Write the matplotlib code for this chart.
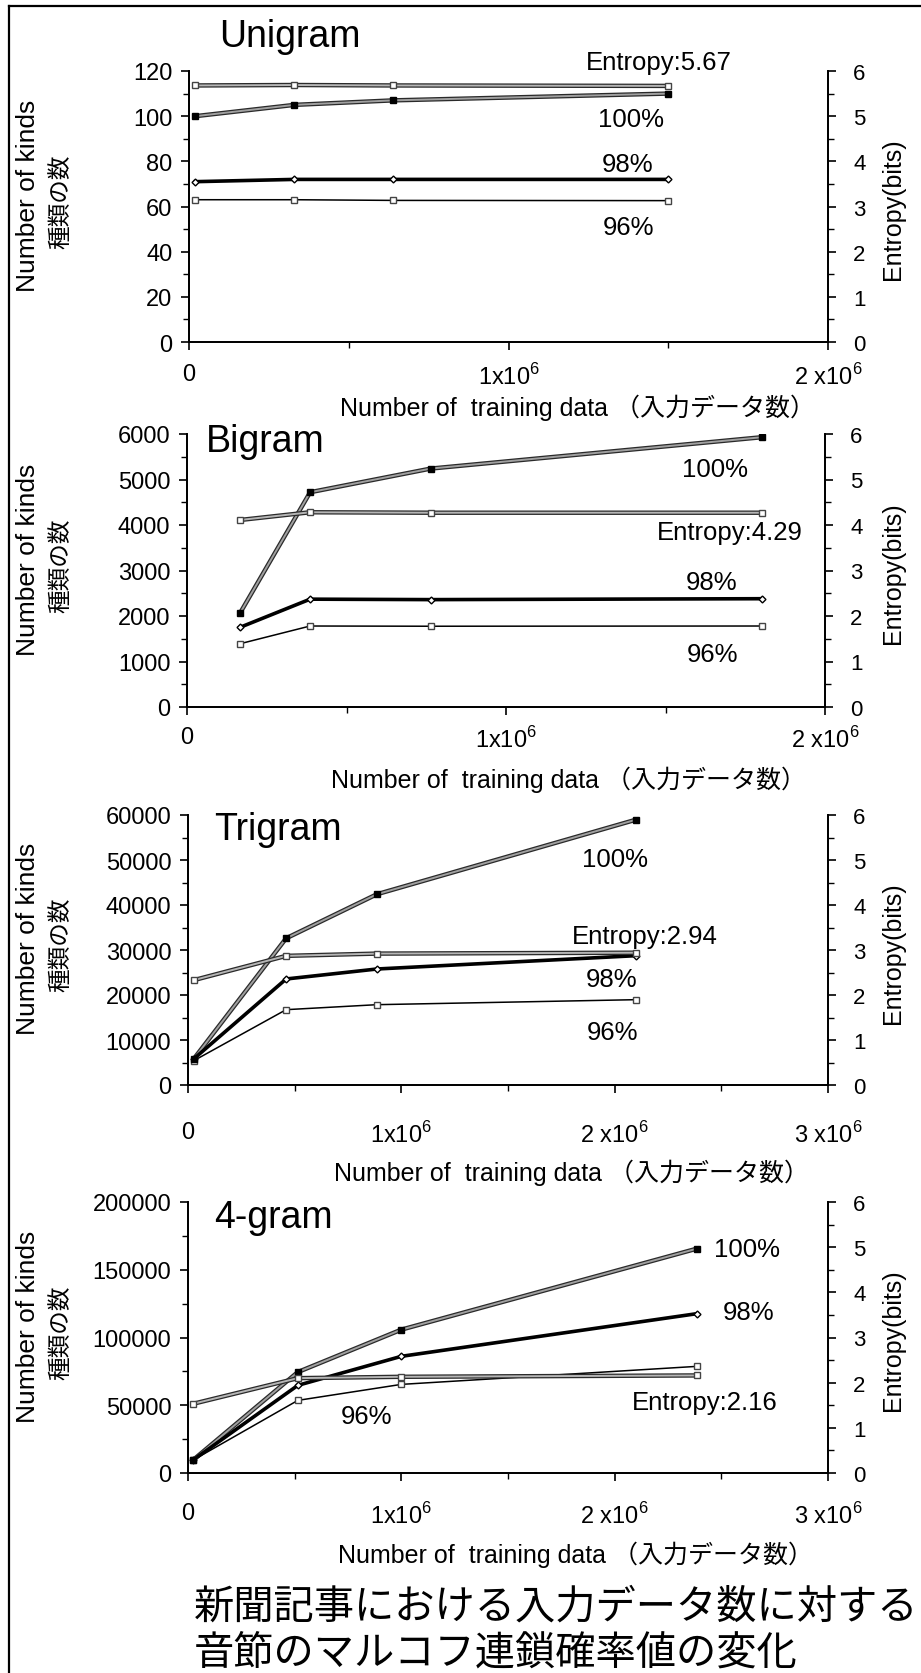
import matplotlib
matplotlib.use('Agg')
import matplotlib.pyplot as plt
import matplotlib.patheffects as pe
from matplotlib.ticker import MultipleLocator

# fonts: latin first, then japanese
plt.rcParams['font.family'] = ['Liberation Sans', 'Noto Sans CJK JP']
plt.rcParams['mathtext.fontset'] = 'custom'
plt.rcParams['mathtext.rm'] = 'Liberation Sans'

W, H = 921, 1674

# data
titles = ['Unigram', 'Bigram', 'Trigram', '4-gram']

xs_uni = [20000, 330000, 640000, 1500000]
uni_100 = [100, 105, 107, 110]
uni_98 = [71, 72, 72, 72]
uni_96 = [63, 63, 62.7, 62.6]
uni_ent = [5.68, 5.69, 5.68, 5.67]

xs_bi = [166000, 386000, 764000, 1803000]
bi_100 = [2060, 4720, 5240, 5930]
bi_98 = [1750, 2370, 2360, 2380]
bi_96 = [1390, 1780, 1775, 1780]
bi_ent = [4.11, 4.28, 4.27, 4.27]

xs_tri = [27000, 460000, 886000, 2100000]
tri_100 = [5800, 32600, 42400, 58960]
tri_98 = [5800, 23560, 25780, 28740]
tri_96 = [5400, 16740, 17850, 18960]
tri_ent = [2.33, 2.87, 2.92, 2.94]

xs_four = [22000, 515000, 1000000, 2386000]
four_100 = [9350, 74500, 105800, 165600]
four_98 = [9350, 64700, 86100, 117600]
four_96 = [9350, 53600, 65400, 78700]
four_ent = [1.53, 2.10, 2.13, 2.16]

ent_labels = ['Entropy:5.67', 'Entropy:4.29', 'Entropy:2.94', 'Entropy:2.16']

xlabel = 'Number of  training data （入力データ数）'
caption = ['新聞記事における入力データ数に対する', '音節のマルコフ連鎖確率値の変化']

# panel settings: pixel box (left, top, right, bottom), y range, ticks, x range
panels = [
    dict(box=(189, 72, 828, 343), ymax=120, ymaj=20, ymin=10, xmax=2e6,
         xs=xs_uni, s100=uni_100, s98=uni_98, s96=uni_96, ent=uni_ent, xpad=9),
    dict(box=(187, 435, 825, 708), ymax=6000, ymaj=1000, ymin=500, xmax=2e6,
         xs=xs_bi, s100=bi_100, s98=bi_98, s96=bi_96, ent=bi_ent, xpad=8),
    dict(box=(188, 816, 828, 1086), ymax=60000, ymaj=10000, ymin=5000, xmax=3e6,
         xs=xs_tri, s100=tri_100, s98=tri_98, s96=tri_96, ent=tri_ent, xpad=20),
    dict(box=(188, 1203, 828, 1474), ymax=200000, ymaj=50000, ymin=25000, xmax=3e6,
         xs=xs_four, s100=four_100, s98=four_98, s96=four_96, ent=four_ent, xpad=15),
]

# label positions in pixels
title_pos = [(219, 37), (206, 442), (214, 830), (214, 1218)]
xlabel_pos = [(577, 408), (568, 780), (571, 1173), (575, 1555)]
note_pos = [
    [(659, 63), (631, 120), (628, 165), (628, 228)],
    [(730, 533), (715, 470), (712, 583), (712, 655)],
    [(645, 937), (615, 860), (612, 980), (612, 1033)],
    [(705, 1403), (747, 1250), (749, 1313), (366, 1417)],
]
pct = ['100%', '98%', '96%']

# scanned grey lines: dark rim, lighter core
rim = [pe.Stroke(linewidth=3.2, foreground='#2a2a2a'), pe.Normal()]


def fx(x):
    return x / W


def fy(y):
    return 1 - y / H


fig = plt.figure(figsize=(W / 100, H / 100), dpi=100)

# scan frame: top and left edges
fig.add_artist(plt.Line2D([fx(9), 1], [fy(7), fy(7)], color='black', lw=1.6))
fig.add_artist(plt.Line2D([fx(9), fx(9)], [fy(7), 0], color='black', lw=1.6))

for i, p in enumerate(panels):
    l, t, r, b = p['box']
    ax = fig.add_axes([fx(l), fy(b), (r - l) / W, (b - t) / H])
    ax2 = ax.twinx()

    # grey textured lines, markers drawn on top separately
    ax.plot(p['xs'], p['s100'], color='#a0a0a0', lw=1.4, zorder=3,
            path_effects=rim)
    ax.plot(p['xs'], p['s100'], ls='none', marker='s', ms=5,
            mfc='black', mec='black', zorder=4)
    ax.plot(p['xs'], p['s98'], color='black', lw=2.6, marker='D', ms=3.5,
            mfc='white', mec='black', zorder=3)
    ax.plot(p['xs'], p['s96'], color='black', lw=1.1, marker='s', ms=5,
            mfc='white', mec='#444444', zorder=3)
    ax2.plot(p['xs'], p['ent'], color='#b5b5b5', lw=1.4, zorder=3,
             path_effects=rim)
    ax2.plot(p['xs'], p['ent'], ls='none', marker='s', ms=5,
             mfc='white', mec='#444444', zorder=4)

    ax.set_xlim(0, p['xmax'])
    ax.set_ylim(0, p['ymax'])
    ax2.set_ylim(0, 6)

    ax.xaxis.set_major_locator(MultipleLocator(1e6))
    ax.xaxis.set_minor_locator(MultipleLocator(5e5))
    ax.yaxis.set_major_locator(MultipleLocator(p['ymaj']))
    ax.yaxis.set_minor_locator(MultipleLocator(p['ymin']))
    ax2.yaxis.set_major_locator(MultipleLocator(1))
    ax2.yaxis.set_minor_locator(MultipleLocator(0.5))

    xt = [0, 1e6, 2e6, 3e6][:int(p['xmax'] / 1e6) + 1]
    xl = ['0', '1x10$^{6}$', '2 x10$^{6}$', '3 x10$^{6}$'][:len(xt)]
    ax.set_xticks(xt)
    ax.set_xticklabels(xl)

    for a in (ax, ax2):
        a.spines['top'].set_visible(False)
        for s in a.spines.values():
            s.set_linewidth(1.3)
    ax.tick_params(axis='both', which='major', direction='out', length=6,
                   width=1.2, labelsize=17)
    ax.tick_params(axis='both', which='minor', direction='out', length=4,
                   width=1.0)
    ax.tick_params(axis='x', pad=p['xpad'])
    ax.tick_params(axis='y', pad=6)
    ax2.tick_params(axis='y', which='major', direction='out', length=6,
                    width=1.2, labelsize=16, pad=12)
    ax2.tick_params(axis='y', which='minor', direction='out', length=4,
                    width=1.0)

    cy = (t + b) / 2 - 12
    fig.text(fx(28), fy(cy), 'Number of kinds', rotation=90, fontsize=19,
             ha='center', va='center')
    fig.text(fx(61), fy(cy + 6), '種類の数', rotation=90, fontsize=17,
             ha='center', va='center', family=['Noto Sans CJK JP'])
    fig.text(fx(893), fy((t + b) / 2 + 2), 'Entropy(bits)', rotation=90,
             fontsize=18, ha='center', va='center')

    tx, ty = title_pos[i]
    fig.text(fx(tx), fy(ty), titles[i], fontsize=27, ha='left', va='center')
    xx, xy = xlabel_pos[i]
    fig.text(fx(xx), fy(xy), xlabel, fontsize=18, ha='center', va='center')

    notes = [ent_labels[i]] + pct
    for (nx, ny), s in zip(note_pos[i], notes):
        fig.text(fx(nx), fy(ny), s, fontsize=18.5, ha='center', va='center')

fig.text(fx(194), fy(1607), caption[0], fontsize=29, ha='left', va='center',
         family=['Noto Sans CJK JP'])
fig.text(fx(194), fy(1653), caption[1], fontsize=29, ha='left', va='center',
         family=['Noto Sans CJK JP'])

fig.savefig('out.png', dpi=100)
